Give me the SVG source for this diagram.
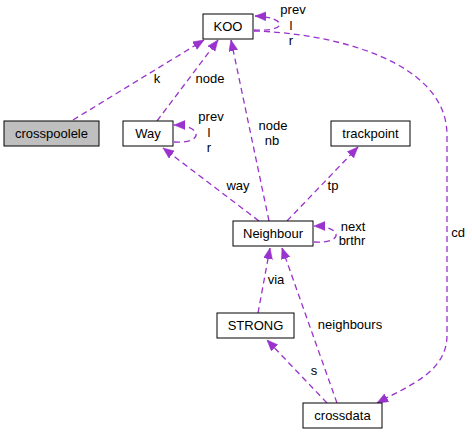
<svg xmlns="http://www.w3.org/2000/svg" width="472" height="435" viewBox="0 0 472 435">
<style>
.box{fill:#fff;stroke:#000;stroke-width:1}
.gray{fill:#bfbfbf}
.t{font-family:"Liberation Sans",Arial,sans-serif;font-size:13px;fill:#000}
.c{text-anchor:middle}
.e{fill:none;stroke:#9a32cd;stroke-width:1.3;stroke-dasharray:6,4;marker-end:url(#ah)}
</style>
<defs>
<marker id="ah" markerUnits="userSpaceOnUse" markerWidth="12" markerHeight="10" refX="11" refY="4.5" orient="auto">
<path d="M0,0 L11,4.5 L0,9 z" fill="#9a32cd" stroke="#9a32cd" stroke-width="0.5"/>
</marker>
</defs>
<rect width="472" height="435" fill="#fff"/>
<g id="edges">
<path class="e" d="M73,120 L204,40"/>
<path class="e" d="M157,121 L218,40"/>
<path class="e" d="M269,221 L231,40"/>
<path class="e" d="M254,30 C290,32 286,17 255,16"/>
<path class="e" d="M254,31 C330,33 447,60 447,135 L447,335 C447,372 410,385 377,403"/>
<path class="e" d="M174,142 C205,144 202,125 174,125"/>
<path class="e" d="M259,221 L163,148"/>
<path class="e" d="M287,221 L358,147"/>
<path class="e" d="M314,242 C345,244 342,226 314,226"/>
<path class="e" d="M258,313 L270,248"/>
<path class="e" d="M337,403 L282,248"/>
<path class="e" d="M327,403 L267,340"/>
</g>
<g id="labels">
<text class="t c" x="157" y="83">k</text>
<text class="t c" x="210" y="83">node</text>
<text class="t c" x="293" y="14">prev</text>
<text class="t c" x="291" y="30">l</text>
<text class="t c" x="291" y="45">r</text>
<text class="t c" x="211" y="121">prev</text>
<text class="t c" x="209" y="137">l</text>
<text class="t c" x="209" y="152">r</text>
<text class="t c" x="273" y="130">node</text>
<text class="t c" x="272" y="145">nb</text>
<text class="t c" x="238" y="190">way</text>
<text class="t c" x="333" y="190">tp</text>
<text class="t c" x="353" y="231">next</text>
<text class="t c" x="352" y="245">brthr</text>
<text class="t c" x="458" y="237">cd</text>
<text class="t c" x="276" y="284">via</text>
<text class="t c" x="350" y="329">neighbours</text>
<text class="t c" x="314" y="375">s</text>
</g>
<g id="KOO"><rect class="box" x="203" y="14" width="50" height="25"/><text class="t c" x="228" y="31">KOO</text></g>
<g id="crosspoolele"><rect class="box gray" x="4" y="121" width="95" height="25"/><text class="t c" x="51.5" y="138">crosspoolele</text></g>
<g id="Way"><rect class="box" x="123" y="121" width="50" height="25"/><text class="t c" x="148" y="138">Way</text></g>
<g id="trackpoint"><rect class="box" x="331" y="121" width="79" height="25"/><text class="t c" x="370.5" y="138">trackpoint</text></g>
<g id="Neighbour"><rect class="box" x="233" y="221" width="80" height="25"/><text class="t c" x="273" y="238">Neighbour</text></g>
<g id="STRONG"><rect class="box" x="217" y="313" width="77" height="25"/><text class="t c" x="255.5" y="330">STRONG</text></g>
<g id="crossdata"><rect class="box" x="303" y="403" width="79" height="25"/><text class="t c" x="342.5" y="420">crossdata</text></g>
</svg>
